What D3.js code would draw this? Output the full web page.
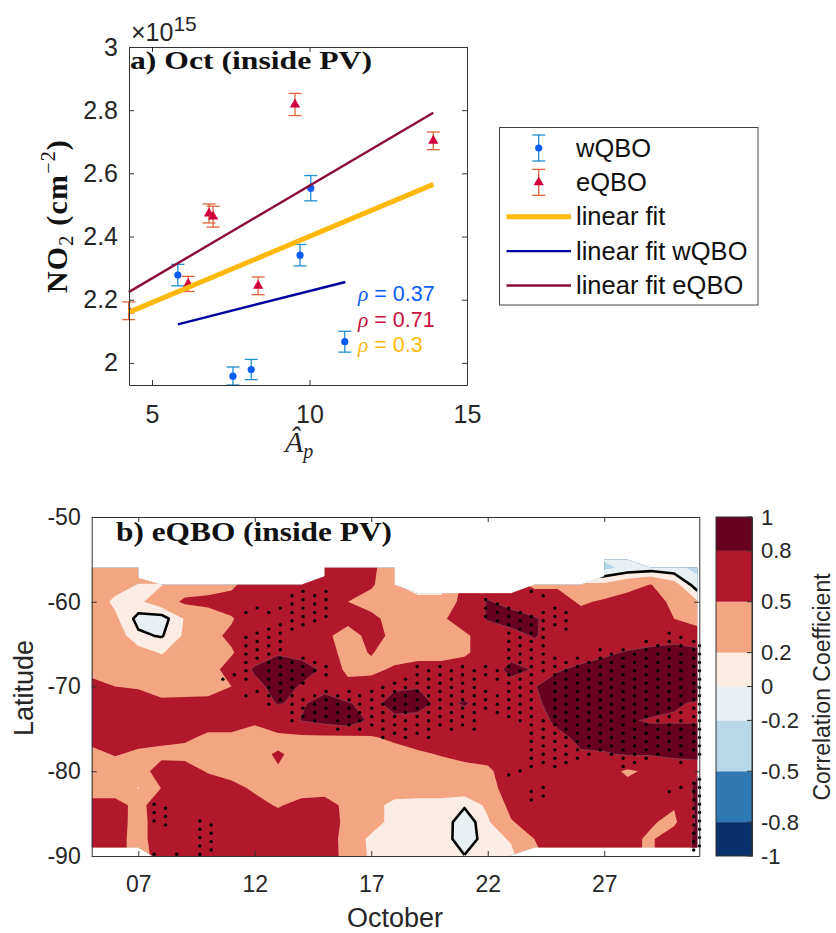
<!DOCTYPE html>
<html>
<head>
<meta charset="utf-8">
<script src="https://cdn.jsdelivr.net/npm/d3@7"></script>
<style>
body { margin: 0; background: #fff; }
text { font-family: "Liberation Sans", sans-serif; fill: #262626; }
.title { font-family: "Liberation Serif", serif; font-weight: bold; fill: #111; }
</style>
</head>
<body>
<div id="chart"></div>
<script>
// panel a: Ap vs NO2
const wqboAp = [5.82, 7.57, 8.15, 9.70, 10.04, 11.12];
const wqboNo2 = [2.278, 1.958, 1.979, 2.341, 2.553, 2.067];
const wqboErr = [0.034, 0.029, 0.032, 0.034, 0.040, 0.033];
const eqboAp = [4.26, 6.15, 6.81, 6.94, 8.37, 9.54, 13.93];
const eqboNo2 = [2.165, 2.25, 2.473, 2.463, 2.244, 2.818, 2.703];
const eqboErr = [0.028, 0.024, 0.030, 0.033, 0.028, 0.035, 0.028];
const fitAll = [[4.26, 2.16], [13.93, 2.565]];
const fitW = [[5.82, 2.122], [11.14, 2.256]];
const fitE = [[4.26, 2.224], [13.93, 2.792]];
const rhoLabels = ["0.37", "0.71", "0.3"];
const legendNames = ["wQBO", "eQBO", "linear fit", "linear fit wQBO", "linear fit eQBO"];

// panel b: correlation per day (columns) and latitude (rows)
const corrDays = d3.range(5, 32);
const corrLats = [-55, -56, -58, -60, -62, -64, -66, -68, -70, -72, -74, -76, -78, -80, -82, -84, -86, -88, -90];
const corrValues = [
  [.35,.35,.35,.35,.4,.4,.45,.6,.6,.65,.65,.65,.55,.35,.02,.02,.6,.65,.6,.45,.4,-.18,-.18,-.1,-.1,-.12,-.2],
  [.35,.35,.35,.35,.4,.4,.45,.6,.6,.65,.65,.65,.55,.35,.02,.02,.6,.65,.6,.45,.4,-.25,-.25,-.15,-.12,-.15,-.25],
  [.35,.3,.19,.19,.35,.42,.45,.65,.65,.65,.65,.6,.55,.22,.05,.05,.6,.65,.6,.45,.45,.25,.25,.4,.51,.3,-.12],
  [.35,.15,.15,.35,.55,.55,.6,.65,.65,.65,.65,.5,.35,.35,.3,.3,.6,.82,.72,.65,.65,.45,.55,.62,.65,.42,.22],
  [.35,.25,-.07,-.1,.22,.4,.48,.65,.65,.65,.65,.65,.6,.35,.35,.45,.65,.82,.9,.82,.72,.65,.65,.65,.65,.5,.42],
  [.35,.35,.04,-.02,.24,.44,.54,.65,.65,.65,.6,.3,.65,.4,.35,.35,.45,.65,.72,.82,.7,.65,.65,.65,.65,.7,.6],
  [.35,.35,.3,.18,.35,.4,.48,.65,.78,.72,.62,.4,.52,.35,.35,.35,.45,.65,.7,.7,.65,.7,.76,.82,.88,.9,.88],
  [.35,.35,.35,.35,.35,.42,.58,.84,.9,.9,.76,.42,.42,.55,.65,.65,.65,.65,.88,.78,.78,.85,.9,.9,.9,.9,.9],
  [.65,.5,.47,.42,.42,.42,.5,.72,.9,.78,.72,.6,.65,.76,.79,.7,.7,.7,.7,.79,.9,.9,.9,.9,.9,.9,.9],
  [.65,.65,.65,.54,.55,.56,.62,.72,.81,.77,.9,.82,.72,.9,.87,.75,.82,.72,.7,.75,.9,.9,.9,.9,.9,.82,.78],
  [.65,.65,.65,.65,.62,.62,.62,.52,.65,.81,.9,.98,.74,.74,.74,.7,.7,.7,.7,.7,.85,.9,.9,.82,.78,.78,.78],
  [.6,.6,.6,.58,.55,.45,.45,.45,.45,.45,.45,.45,.48,.55,.65,.65,.7,.7,.7,.7,.75,.85,.9,.9,.9,.9,.9],
  [.42,.52,.45,.42,.4,.38,.38,.46,.515,.46,.38,.38,.38,.4,.45,.52,.6,.6,.7,.7,.7,.78,.78,.82,.82,.85,.81],
  [.35,.35,.35,.65,.65,.47,.38,.38,.49,.38,.35,.35,.35,.35,.35,.35,.38,.45,.65,.7,.7,.7,.6,.46,.55,.65,.78],
  [.35,.35,.19,.51,.7,.7,.6,.45,.35,.35,.35,.35,.35,.35,.35,.35,.35,.42,.6,.7,.7,.7,.7,.58,.65,.65,.85],
  [.6,.6,.42,.65,.65,.65,.65,.6,.47,.6,.65,.4,.3,.12,.1,.1,.03,.25,.58,.7,.7,.7,.7,.7,.7,.52,.85],
  [.65,.62,.4,.65,.65,.65,.65,.65,.65,.65,.7,.4,.3,.12,.1,.15,-.15,.17,.48,.62,.7,.7,.7,.65,.52,.45,.85],
  [.65,.6,.4,.65,.65,.65,.65,.65,.65,.65,.7,.35,.15,.1,.1,.14,-.15,.12,.22,.5,.65,.7,.7,.55,.47,.65,.85],
  [.65,.6,.4,.6,.65,.65,.65,.65,.65,.65,.62,.42,.15,.1,.1,.1,.01,.12,.15,.42,.65,.7,.7,.55,.47,.65,.85]
];
// limits of the data coverage, white outside
const northDays = [5, 7, 7, 8, 14, 15, 15, 18, 18, 19, 23, 24, 26, 27, 27, 28, 29, 31];
const northLats = [-56, -56, -57.2, -58, -58, -57, -56, -56, -58, -59, -59, -58, -58, -57, -55, -55, -56, -56];
const southDays = [5, 7, 7.6, 22.9, 24, 31];
const southLats = [-89, -89, -90, -90, -89, -89];

const levels = [-1, -0.8, -0.5, -0.2, 0, 0.2, 0.5, 0.8];
const levelColors = ["#08306b", "#2f79b5", "#b8d8ea", "#e8f0f4", "#fbede4", "#f4a582", "#b2182b", "#67001f"];
const cbarTicks = [1, 0.8, 0.5, 0.2, 0, -0.2, -0.5, -0.8, -1];

// significance stipples: one day per column, runs of lattice rows
const dotDays = [7.68, 8.17, 8.65, 9.14, 9.64, 10.13, 10.63, 11.12, 11.62, 12.1, 12.6, 13.1, 13.6, 14.07, 14.57, 15.06, 15.56, 16.05, 16.5, 17.02, 17.5, 18.0,
  18.47, 18.97, 19.46, 19.95, 20.44, 20.92, 21.42, 21.91, 22.41, 22.9, 23.39, 23.87, 24.38, 24.88, 25.36, 25.85, 26.34, 26.83, 27.31, 27.81, 28.3, 28.8, 29.3, 29.79, 30.29, 30.84, 31.09];
const dotRuns = [
  [[25,27],[31,31]], [[26,28]], [[31,31]], [], [[27,31]], [[28,31]], [[10,10]], [[10,10]],
  [[2,2],[5,10],[12,12]], [[2,2],[5,8],[12,12]], [[2,2],[4,13]], [[2,2],[4,13]],
  [[0,4],[8,15]], [[0,4],[8,11],[13,15]], [[0,3],[8,9],[12,15]], [[0,3],[9,10],[12,15]],
  [[12,16]], [[12,16]], [[12,16]], [[12,16]], [[11,17]], [[11,17]], [[10,17]], [[9,17]], [[9,17]], [[9,16]], [[9,16]], [[9,16]], [[9,16]],
  [[1,3],[9,10],[12,14]], [[1,3],[9,10],[12,14]], [[2,15],[22,22]], [[2,15],[21,21]],
  [[0,0],[3,21],[24,25]], [[0,0],[2,9],[15,20],[23,24]], [[2,4],[8,21]], [[2,4],[8,20]], [[8,20]], [[8,19]], [[7,19]], [[7,19]], [[7,21]], [[7,20]], [[6,20]], [[6,19]],
  [[5,19],[24,24]], [[5,20],[23,23]], [[6,19],[23,31]], [[6,19],[22,30]]
];

const svg = d3.select("#chart").append("svg").attr("width", 836).attr("height", 933);

// ---- helpers
function styleAxis(g, size) {
  g.selectAll(".domain").attr("stroke", "#333").attr("stroke-width", 1);
  g.selectAll(".tick line").attr("stroke", "#333").attr("stroke-width", 1);
  g.selectAll(".tick text").style("font-family", "Liberation Sans").style("font-size", size + "px").attr("fill", "#262626");
}
function boxAxes(x, y, xTicks, yTicks, xFmt, yFmt, size) {
  const [x0, x1] = x.range(), [y1, y0] = y.range();
  svg.append("g").attr("transform", `translate(0,${y1})`)
    .call(d3.axisBottom(x).tickValues(xTicks).tickFormat(xFmt).tickSize(-5).tickPadding(20).tickSizeOuter(0)).call(styleAxis, size);
  svg.append("g").attr("transform", `translate(0,${y0})`)
    .call(d3.axisTop(x).tickValues(xTicks).tickFormat("").tickSize(-5).tickSizeOuter(0)).call(styleAxis, size);
  svg.append("g").attr("transform", `translate(${x0},0)`)
    .call(d3.axisLeft(y).tickValues(yTicks).tickFormat(yFmt).tickSize(-5).tickPadding(11).tickSizeOuter(0)).call(styleAxis, size);
  svg.append("g").attr("transform", `translate(${x1},0)`)
    .call(d3.axisRight(y).tickValues(yTicks).tickFormat("").tickSize(-5).tickSizeOuter(0)).call(styleAxis, size);
}
function errBar(g, cx, yTop, yBot, color) {
  g.append("line").attr("x1", cx).attr("x2", cx).attr("y1", yTop).attr("y2", yBot).attr("stroke", color).attr("stroke-width", 1.3);
  [yTop, yBot].forEach(yy => g.append("line").attr("x1", cx - 6.5).attr("x2", cx + 6.5).attr("y1", yy).attr("y2", yy).attr("stroke", color).attr("stroke-width", 1.3));
}

// ---- panel a
const xA = d3.scaleLinear().domain([4.27, 15]).range([129, 467]);
const yA = d3.scaleLinear().domain([1.93, 3]).range([385, 47]);
const blue = "#0a5cf5", blueErr = "#1f8fd0", red = "#d0003c", redErr = "#e0643c";
const yellow = "#ffb90a", navy = "#0000a0", maroon = "#8b0a3c";

svg.append("clipPath").attr("id", "clipA").append("rect")
  .attr("x", 129).attr("y", 47).attr("width", 338).attr("height", 338);

const fitLine = d3.line().x(d => xA(d[0])).y(d => yA(d[1]));
const triangle = d3.symbol().type(d3.symbolTriangle).size(46);

const marks = svg.append("g");
wqboAp.forEach((v, i) => {
  const hi = yA(wqboNo2[i] + wqboErr[i]), lo = Math.min(yA(wqboNo2[i] - wqboErr[i]), 385);
  errBar(marks, xA(v), hi, lo, blueErr);
});
eqboAp.forEach((v, i) => errBar(marks, xA(v), yA(eqboNo2[i] + eqboErr[i]), yA(eqboNo2[i] - eqboErr[i]), redErr));
const clippedMarks = svg.append("g").attr("clip-path", "url(#clipA)");
clippedMarks.selectAll("circle").data(wqboAp).join("circle")
  .attr("cx", d => xA(d)).attr("cy", (d, i) => yA(wqboNo2[i])).attr("r", 3.6).attr("fill", blue);
clippedMarks.selectAll(".tri").data(eqboAp).join("path").attr("class", "tri")
  .attr("d", triangle).attr("fill", red)
  .attr("transform", (d, i) => `translate(${xA(d)},${yA(eqboNo2[i])})`);
svg.append("path").attr("d", fitLine(fitE)).attr("fill", "none").attr("stroke", maroon).attr("stroke-width", 2.4);
svg.append("path").attr("d", fitLine(fitW)).attr("fill", "none").attr("stroke", navy).attr("stroke-width", 2.4);
svg.append("path").attr("d", fitLine(fitAll)).attr("fill", "none").attr("stroke", yellow).attr("stroke-width", 5);

boxAxes(xA, yA, [5, 10, 15], [2, 2.2, 2.4, 2.6, 2.8, 3], d3.format("d"), d => String(d), 25);

const mult = svg.append("text").attr("x", 131).attr("y", 41).style("font-size", "25px");
mult.append("tspan").text("×10");
mult.append("tspan").attr("dy", -10).style("font-size", "21px").text("15");

svg.append("text").attr("class", "title").attr("x", 130).attr("y", 69)
  .attr("textLength", 242).attr("lengthAdjust", "spacingAndGlyphs")
  .style("font-size", "25px").text("a) Oct (inside PV)");

const ylabA = svg.append("text").attr("class", "title")
  .attr("transform", "translate(67,216) rotate(-90)").attr("text-anchor", "middle").style("font-size", "30px").style("letter-spacing", "1.2px");
ylabA.append("tspan").text("NO");
ylabA.append("tspan").attr("dy", 6).style("font-size", "20px").style("font-weight", "normal").text("2");
ylabA.append("tspan").attr("dy", -6).text(" (cm");
ylabA.append("tspan").attr("dy", -12).style("font-size", "20px").style("font-weight", "normal").text("−2");
ylabA.append("tspan").attr("dy", 12).text(")");

const xlabA = svg.append("text").attr("x", 285).attr("y", 452)
  .style("font-family", "Liberation Serif").style("font-style", "italic").style("font-size", "30px");
xlabA.append("tspan").text("Â");
xlabA.append("tspan").attr("dy", 6).style("font-size", "20px").text("p");

[blue, "#c8103c", yellow].forEach((c, i) => {
  const t = svg.append("text").attr("x", 358).attr("y", 301 + i * 25.5).style("font-size", "21.5px").style("fill", c);
  t.append("tspan").style("font-family", "Liberation Serif").style("font-style", "italic").style("fill", c).text("ρ");
  t.append("tspan").style("fill", c).text(" = " + rhoLabels[i]);
});

// ---- legend
const legend = svg.append("g");
legend.append("rect").attr("x", 499.5).attr("y", 127.5).attr("width", 258.5).attr("height", 177.5)
  .attr("fill", "#fff").attr("stroke", "#444").attr("stroke-width", 1);
const legendY = d3.scalePoint().domain(legendNames).range([148, 285.5]);
legendNames.forEach(n => {
  legend.append("text").attr("x", 576).attr("y", legendY(n) + 8.5).style("font-size", "25.5px").style("fill", "#111").text(n);
});
errBar(legend, 538.7, legendY("wQBO") - 13, legendY("wQBO") + 13, blueErr);
legend.append("circle").attr("cx", 538.7).attr("cy", legendY("wQBO")).attr("r", 3.6).attr("fill", blue);
errBar(legend, 538.7, legendY("eQBO") - 13, legendY("eQBO") + 13, redErr);
legend.append("path").attr("d", triangle).attr("fill", red).attr("transform", `translate(538.7,${legendY("eQBO")})`);
[["linear fit", yellow, 5], ["linear fit wQBO", navy, 2.4], ["linear fit eQBO", maroon, 2.4]].forEach(([n, c, w]) => {
  legend.append("line").attr("x1", 506.5).attr("x2", 571).attr("y1", legendY(n)).attr("y2", legendY(n)).attr("stroke", c).attr("stroke-width", w);
});

// ---- panel b
const xB = d3.scaleLinear().domain([5, 31.08]).range([91.7, 699.3]);
const yB = d3.scaleLinear().domain([-90, -50]).range([856, 517]);
const colScale = d3.scaleLinear().domain([0, corrDays.length - 1]).range([corrDays[0], corrDays[corrDays.length - 1]]).clamp(true);
const rowScale = d3.scaleLinear().domain(d3.range(corrLats.length)).range(corrLats).clamp(true);

const nc = corrDays.length, nr = corrLats.length;
const flat = corrValues.flat();
const gridX = gx => xB(colScale(gx - 0.5));
const gridY = gy => yB(rowScale(gy - 0.5));
const contourGen = d3.contours().size([nc, nr]).thresholds(levels).smooth(true);
const gridPath = d3.geoPath(d3.geoTransform({
  point(px, py) { this.stream.point(gridX(px), gridY(py)); }
}));

const coverage = northDays.map((d, i) => [xB(d), yB(northLats[i])])
  .concat(southDays.map((d, i) => [xB(d), yB(southLats[i])]).reverse());
svg.append("clipPath").attr("id", "clipB").append("path").attr("d", d3.line()(coverage) + "Z");

const field = svg.append("g").attr("clip-path", "url(#clipB)");
contourGen(flat).forEach((c, i) => {
  const top = levels[i] === 0.8;
  field.append("path").attr("d", gridPath(c)).attr("fill", levelColors[i])
    .attr("stroke", top ? "#8a4a62" : "none").attr("stroke-width", top ? 0.7 : 0);
});

// zero contour as black line, leaving out the grid border
const zero = d3.contours().size([nc, nr]).thresholds([0]).smooth(true)(flat)[0];
const onBorder = p => p[0] <= 0.01 || p[0] >= nc - 0.01 || p[1] <= 0.01 || p[1] >= nr - 0.01;
const ringLine = d3.line().defined(p => !onBorder(p)).x(p => gridX(p[0])).y(p => gridY(p[1]));
zero.coordinates.forEach(poly => poly.forEach(ring => {
  field.append("path").attr("d", ringLine(ring)).attr("fill", "none")
    .attr("stroke", "#000").attr("stroke-width", 2.6).attr("stroke-linejoin", "round");
}));

// stipples
const dotG = svg.append("g");
dotDays.forEach((day, j) => {
  const base = j % 2 === 0 ? -59.29 : -58.78;
  dotRuns[j].forEach(([a, b]) => {
    d3.range(a, b + 1).forEach(k => {
      dotG.append("circle").attr("cx", xB(day)).attr("cy", yB(base - 0.984 * k)).attr("r", 1.7).attr("fill", "#000");
    });
  });
});

boxAxes(xB, yB, [7, 12, 17, 22, 27], [-50, -60, -70, -80, -90], d3.format("02d"), d => String(d), 23);

svg.append("text").attr("class", "title").attr("x", 116).attr("y", 541)
  .attr("textLength", 276).attr("lengthAdjust", "spacingAndGlyphs")
  .style("font-size", "27px").text("b) eQBO (inside PV)");
svg.append("text").attr("transform", "translate(33,688) rotate(-90)").attr("text-anchor", "middle")
  .style("font-size", "27px").text("Latitude");
svg.append("text").attr("x", 395).attr("y", 927).attr("text-anchor", "middle")
  .style("font-size", "27px").text("October");

// ---- colorbar
const yC = d3.scaleLinear().domain([-1, 1]).range([856, 517]);
const cbarEdges = levels.concat([1]);
levels.forEach((lv, i) => {
  svg.append("rect").attr("x", 716).attr("width", 36).attr("y", yC(cbarEdges[i + 1]))
    .attr("height", yC(lv) - yC(cbarEdges[i + 1])).attr("fill", levelColors[i]);
});
svg.append("g").attr("transform", "translate(752,0)")
  .call(d3.axisRight(yC).tickValues(cbarTicks).tickFormat(d => String(d)).tickSize(0).tickPadding(9).tickSizeOuter(0))
  .call(styleAxis, 22);
cbarTicks.forEach(t => {
  svg.append("line").attr("x1", 747).attr("x2", 752).attr("y1", yC(t)).attr("y2", yC(t)).attr("stroke", "#333");
});
svg.append("rect").attr("x", 716).attr("y", 517).attr("width", 36).attr("height", 339)
  .attr("fill", "none").attr("stroke", "#333").attr("stroke-width", 1);
svg.append("text").attr("transform", "translate(830,687) rotate(-90)").attr("text-anchor", "middle")
  .style("font-size", "23px").text("Correlation Coefficient");
</script>
</body>
</html>
